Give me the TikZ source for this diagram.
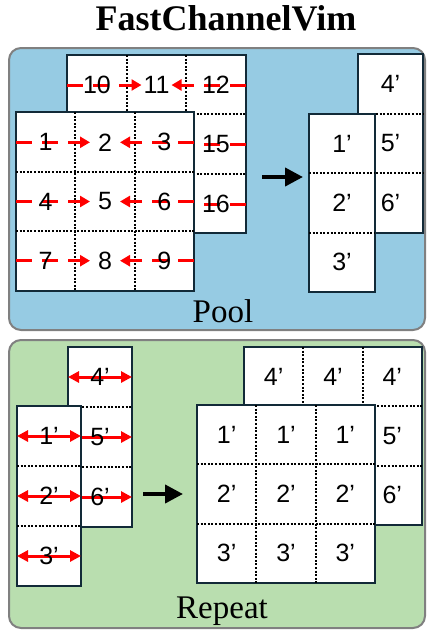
\documentclass[tikz,border=0pt]{standalone}
\usepackage{fontspec}
\setmainfont{Liberation Serif}
\setsansfont{Liberation Sans}
\usepackage{xcolor}
\usepackage{tikz}
\usetikzlibrary{positioning,arrows.meta,calc}
\definecolor{poolblue}{RGB}{150,203,227}
\definecolor{repgreen}{RGB}{185,222,175}
\definecolor{framecol}{RGB}{18,42,56}
\pgfdeclarelayer{labels}
\pgfsetlayers{main,labels}

\begin{document}
\begin{tikzpicture}[x=1pt, y=-1pt,
    panel/.style={draw=gray, line width=2pt, rounded corners=12pt},
    gridbox/.style={draw=framecol, line width=2.2pt, fill=white, inner sep=0pt, outer sep=0pt},
    num/.style={font=\sffamily\fontsize{25}{25}\selectfont, inner sep=1pt},
    divline/.style={line width=2pt, dash pattern=on 2pt off 1.6pt},
    pooldash/.style={red, line width=3pt, dash pattern=on 16pt off 10pt, -{Triangle[length=10pt,width=11pt]}, shorten >=15pt},
    reparrow/.style={red, line width=3pt, {Triangle[length=11pt,width=11pt]}-{Triangle[length=11pt,width=11pt]}},
    bigarrow/.style={line width=4pt, -{Triangle[length=18pt,width=18pt]}},
    caption/.style={font=\fontsize{33}{33}\selectfont, anchor=base}
  ]
  \useasboundingbox (0,0) rectangle (427,630);

  \node[font=\bfseries\fontsize{36}{36}\selectfont, anchor=base] (title) at (226,30) {FastChannelVim};

  % panels
  \draw[panel, fill=poolblue] (9,48) rectangle (425,330);
  \draw[panel, fill=repgreen] (9,340) rectangle (425,628);

  % --- Pool ---
  \node[gridbox, minimum width=179pt, minimum height=178pt] (poolback) at (156.5,144) {};
  \begin{pgfonlayer}{labels}
    \node[num] at (97,85) (pb10) {10};
    \node[num] at (156.5,85) (pb11) {11};
    \node[num] at (216,85) (pb12) {12};
    \node[num] at (216,144.5) (pb15) {15};
    \node[num] at (216,204) (pb16) {16};
  \end{pgfonlayer}
  \foreach \f in {0.3333,0.6667} {
    \draw[divline] ($(poolback.north west)!\f!(poolback.north east)$) -- ($(poolback.south west)!\f!(poolback.south east)$);
    \draw[divline] ($(poolback.north west)!\f!(poolback.south west)$) -- ($(poolback.north east)!\f!(poolback.south east)$);
  }
  \draw[pooldash] (poolback.west |- pb10) -- (pb11.center);
  \draw[pooldash] (poolback.east |- pb12) -- (pb11.center);
  \draw[pooldash] (poolback.east |- pb15) -- (pb11 |- pb15);
  \draw[pooldash] (poolback.east |- pb16) -- (pb11 |- pb16);

  \node[gridbox, minimum width=178pt, minimum height=179pt] (poolfront) at (105,201.5) {};
  \begin{pgfonlayer}{labels}
    \node[num] at (45.7,142.3) (pf1) {1};
    \node[num] at (105,142.3) (pf2) {2};
    \node[num] at (164.3,142.3) (pf3) {3};
    \node[num] at (45.7,201.5) (pf4) {4};
    \node[num] at (105,201.5) (pf5) {5};
    \node[num] at (164.3,201.5) (pf6) {6};
    \node[num] at (45.7,260.7) (pf7) {7};
    \node[num] at (105,260.7) (pf8) {8};
    \node[num] at (164.3,260.7) (pf9) {9};
  \end{pgfonlayer}
  \foreach \f in {0.3333,0.6667} {
    \draw[divline] ($(poolfront.north west)!\f!(poolfront.north east)$) -- ($(poolfront.south west)!\f!(poolfront.south east)$);
    \draw[divline] ($(poolfront.north west)!\f!(poolfront.south west)$) -- ($(poolfront.north east)!\f!(poolfront.south east)$);
  }
  \draw[pooldash] (poolfront.west |- pf1) -- (pf2.center);
  \draw[pooldash] (poolfront.east |- pf3) -- (pf2.center);
  \draw[pooldash] (poolfront.west |- pf4) -- (pf5.center);
  \draw[pooldash] (poolfront.east |- pf6) -- (pf5.center);
  \draw[pooldash] (poolfront.west |- pf7) -- (pf8.center);
  \draw[pooldash] (poolfront.east |- pf9) -- (pf8.center);

  \coordinate (poolfrom) at (262,177);
  \coordinate (poolto) at (303,177);
  \draw[bigarrow] (poolfrom) -- (poolto);

  \node[gridbox, minimum width=65pt, minimum height=179pt] (pooloutback) at (390.5,143.5) {};
  \begin{pgfonlayer}{labels}
    \node[num] at (390.5,83.8) (po4) {4’};
    \node[num] at (390.5,143.5) (po5) {5’};
    \node[num] at (390.5,203.2) (po6) {6’};
  \end{pgfonlayer}
  \foreach \f in {0.3333,0.6667}
    \draw[divline] ($(pooloutback.north west)!\f!(pooloutback.south west)$) -- ($(pooloutback.north east)!\f!(pooloutback.south east)$);

  \node[gridbox, minimum width=66pt, minimum height=178pt] (pooloutfront) at (342,203) {};
  \begin{pgfonlayer}{labels}
    \node[num] at (342,143.7) (po1) {1’};
    \node[num] at (342,203) (po2) {2’};
    \node[num] at (342,262.3) (po3) {3’};
  \end{pgfonlayer}
  \foreach \f in {0.3333,0.6667}
    \draw[divline] ($(pooloutfront.north west)!\f!(pooloutfront.south west)$) -- ($(pooloutfront.north east)!\f!(pooloutfront.south east)$);

  \node[caption] (pooltxt) at (223,322) {Pool};

  % --- Repeat ---
  \node[gridbox, minimum width=64pt, minimum height=180pt] (repback) at (100,437) {};
  \begin{pgfonlayer}{labels}
    \node[num] at (100,377) (rb4) {4’};
    \node[num] at (100,437) (rb5) {5’};
    \node[num] at (100,497) (rb6) {6’};
  \end{pgfonlayer}
  \foreach \f in {0.3333,0.6667}
    \draw[divline] ($(repback.north west)!\f!(repback.south west)$) -- ($(repback.north east)!\f!(repback.south east)$);
  \draw[reparrow] (repback.west |- rb4) -- (repback.east |- rb4);
  \draw[reparrow] (repback.west |- rb5) -- (repback.east |- rb5);
  \draw[reparrow] (repback.west |- rb6) -- (repback.east |- rb6);

  \node[gridbox, minimum width=64pt, minimum height=180pt] (repfront) at (49,496) {};
  \begin{pgfonlayer}{labels}
    \node[num] at (49,436) (rf1) {1’};
    \node[num] at (49,496) (rf2) {2’};
    \node[num] at (49,556) (rf3) {3’};
  \end{pgfonlayer}
  \foreach \f in {0.3333,0.6667}
    \draw[divline] ($(repfront.north west)!\f!(repfront.south west)$) -- ($(repfront.north east)!\f!(repfront.south east)$);
  \draw[reparrow] (repfront.west |- rf1) -- (repfront.east |- rf1);
  \draw[reparrow] (repfront.west |- rf2) -- (repfront.east |- rf2);
  \draw[reparrow] (repfront.west |- rf3) -- (repfront.east |- rf3);

  \coordinate (repfrom) at (143,494);
  \coordinate (repto) at (183,494);
  \draw[bigarrow] (repfrom) -- (repto);

  \node[gridbox, minimum width=178pt, minimum height=178pt] (repoutback) at (333,436) {};
  \begin{pgfonlayer}{labels}
    \node[num] at (273.7,376.7) (ro4a) {4’};
    \node[num] at (333,376.7) (ro4b) {4’};
    \node[num] at (392.3,376.7) (ro4c) {4’};
    \node[num] at (392.3,436) (ro5) {5’};
    \node[num] at (392.3,495.3) (ro6) {6’};
  \end{pgfonlayer}
  \foreach \f in {0.3333,0.6667} {
    \draw[divline] ($(repoutback.north west)!\f!(repoutback.north east)$) -- ($(repoutback.south west)!\f!(repoutback.south east)$);
    \draw[divline] ($(repoutback.north west)!\f!(repoutback.south west)$) -- ($(repoutback.north east)!\f!(repoutback.south east)$);
  }

  \node[gridbox, minimum width=178pt, minimum height=178pt] (repoutfront) at (286,494) {};
  \begin{pgfonlayer}{labels}
    \node[num] at (226.7,434.7) (ro1a) {1’};
    \node[num] at (286,434.7) (ro1b) {1’};
    \node[num] at (345.3,434.7) (ro1c) {1’};
    \node[num] at (226.7,494) (ro2a) {2’};
    \node[num] at (286,494) (ro2b) {2’};
    \node[num] at (345.3,494) (ro2c) {2’};
    \node[num] at (226.7,553.3) (ro3a) {3’};
    \node[num] at (286,553.3) (ro3b) {3’};
    \node[num] at (345.3,553.3) (ro3c) {3’};
  \end{pgfonlayer}
  \foreach \f in {0.3333,0.6667} {
    \draw[divline] ($(repoutfront.north west)!\f!(repoutfront.north east)$) -- ($(repoutfront.south west)!\f!(repoutfront.south east)$);
    \draw[divline] ($(repoutfront.north west)!\f!(repoutfront.south west)$) -- ($(repoutfront.north east)!\f!(repoutfront.south east)$);
  }

  \node[caption] (reptxt) at (222,618) {Repeat};
\end{tikzpicture}
\end{document}
